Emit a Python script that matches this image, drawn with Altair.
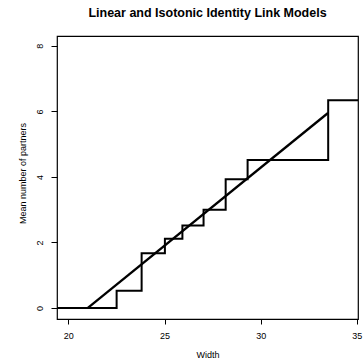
import altair as alt
import pandas as pd

# Isotonic step function (breakpoints and levels)
step_x = [19.41, 22.51, 23.81, 25.02, 25.93, 27.03, 28.18, 29.32, 33.51, 35.06]
step_y = [0.0, 0.53, 1.67, 2.11, 2.52, 3.0, 3.93, 4.52, 6.34, 6.34]

# Linear identity-link fit (end points)
lin_x = [21.0, 33.5]
lin_y = [0.0, 5.95]

x_ticks = [20, 25, 30, 35]
y_ticks = [0, 2, 4, 6, 8]

step_df = pd.DataFrame({"Width": step_x, "Mean": step_y})
lin_df = pd.DataFrame({"Width": lin_x, "Mean": lin_y})

xscale = alt.Scale(domain=[19.41, 35.06], nice=False, zero=False)
yscale = alt.Scale(domain=[-0.335, 8.30], nice=False, zero=False)

xaxis = alt.Axis(values=x_ticks, title="Width", grid=False, domain=False,
                 tickSize=5, tickColor="black", tickWidth=1,
                 labelPadding=7, labelFontSize=9, labelColor="black",
                 labelFont="Liberation Sans",
                 titleFont="Liberation Sans", titleFontSize=9, titleFontWeight="normal",
                 titleColor="black", titleY=35, titleBaseline="middle")
yaxis = alt.Axis(values=y_ticks, title="Mean number of partners", grid=False, domain=False,
                 tickSize=6, tickColor="black", tickWidth=1,
                 labelAngle=-90, labelAlign="center", labelBaseline="bottom",
                 labelPadding=7, labelFontSize=9, labelColor="black",
                 labelFont="Liberation Sans",
                 titleFont="Liberation Sans", titleFontSize=9, titleFontWeight="normal",
                 titleColor="black", titleX=-35, titleY=137, titleAngle=-90,
                 titleAlign="center", titleBaseline="middle")

steps = alt.Chart(step_df).mark_line(
    interpolate="step-after", color="black", strokeWidth=2, clip=True
).encode(
    x=alt.X("Width:Q", scale=xscale, axis=xaxis),
    y=alt.Y("Mean:Q", scale=yscale, axis=yaxis),
)

line = alt.Chart(lin_df).mark_line(color="black", strokeWidth=2.3, clip=True).encode(
    x=alt.X("Width:Q", scale=xscale),
    y=alt.Y("Mean:Q", scale=yscale),
)

chart = alt.layer(steps, line).properties(
    width=301,
    height=283,
    padding={"left": 57, "top": 36, "right": 6, "bottom": 41},
    autosize=alt.AutoSizeParams(type="none"),
    title=alt.TitleParams(
        "Linear and Isotonic Identity Link Models",
        font="Liberation Sans", fontSize=12.5, fontWeight="bold",
        anchor="middle", offset=17, color="black",
    ),
    background="white",
).configure_view(stroke="black", strokeWidth=1.2)

chart.save("out.html", embed_options={"renderer": "svg", "actions": False})
